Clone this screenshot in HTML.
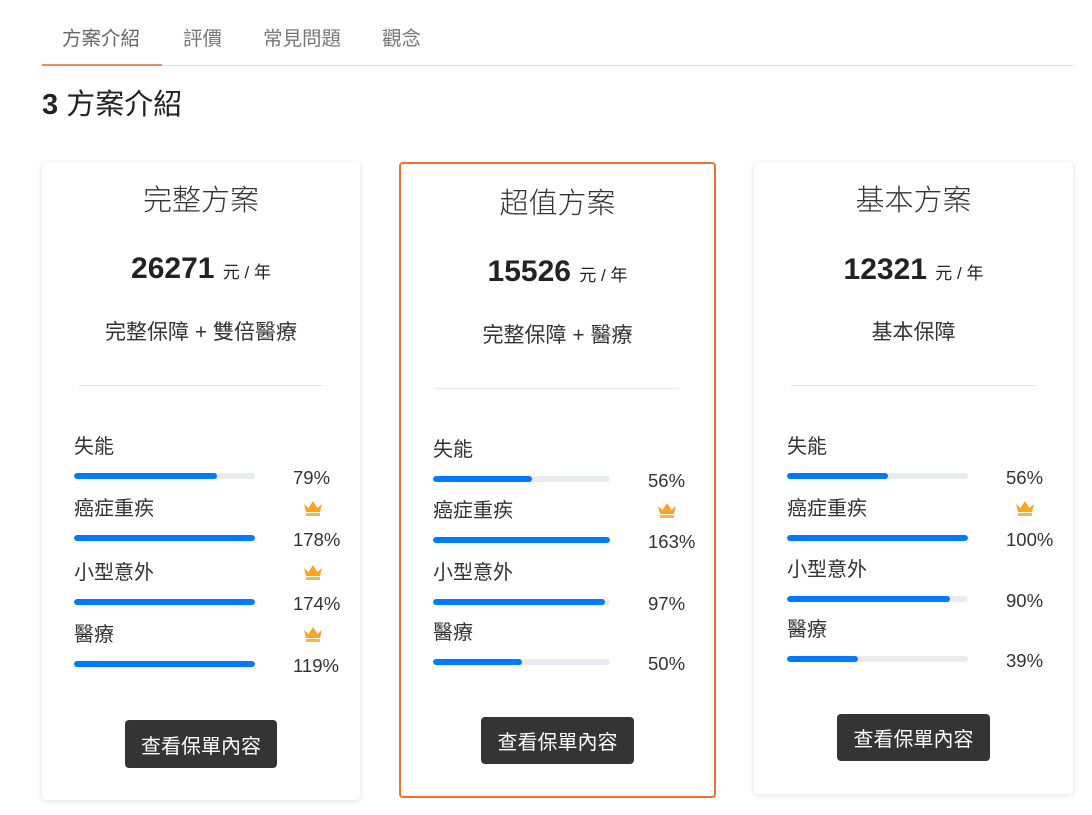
<!DOCTYPE html>
<html><head><meta charset="utf-8"><style>
body{margin:0;width:1092px;height:815px;background:#fff;font-family:"Liberation Sans","Noto Sans CJK TC",sans-serif;color:#333;position:relative;overflow:hidden}
.abs{position:absolute}
.tab{position:absolute;top:27px;font-size:19.5px;color:#777;line-height:24px}
.card{position:absolute;background:#fff;border-radius:4px;box-shadow:0 1px 6px rgba(0,0,0,0.13)}
.c{position:absolute;left:0;right:0;text-align:center;transform:translateY(-50%)}
.title{font-size:29px;color:#333;font-weight:300}
.price{font-size:30px;font-weight:bold;color:#222}
.price span{font-size:17px;font-weight:normal}
.sub{font-size:21px;color:#333}
.hr{position:absolute;height:1px;background:#e3e3e8}
.lbl{position:absolute;font-size:20px;transform:translateY(-50%);line-height:24px}
.track{position:absolute;height:6px;border-radius:3px;background:#e9ecef;overflow:hidden}
.fill{height:100%;background:#007bff;border-radius:3px}
.pct{position:absolute;font-size:18.5px;transform:translateY(-50%);line-height:24px}
.crown{position:absolute}
.btn{position:absolute;background:#343434;color:#fff;font-size:20px;border-radius:4px;display:flex;align-items:center;justify-content:center}
</style></head><body>
<div class="tab" style="left:62px;color:#666">方案介紹</div>
<div class="tab" style="left:183px">評價</div>
<div class="tab" style="left:263px">常見問題</div>
<div class="tab" style="left:382px">觀念</div>
<div class="abs" style="left:42px;top:65px;width:1031px;height:1px;background:#ddd"></div>
<div class="abs" style="left:42px;top:64px;width:120px;height:2px;background:#f0866a"></div>
<div class="abs" style="left:42px;top:87px;font-size:29px;color:#222;line-height:36px"><b>3</b> 方案介紹</div>
<div id="root"></div>
<script>
const planNames=["完整方案","超值方案","基本方案"];
const planPrices=["26271","15526","12321"];
const planSubs=["完整保障 + 雙倍醫療","完整保障 + 醫療","基本保障"];
const categories=["失能","癌症重疾","小型意外","醫療"];
const valuesFull=[79,178,174,119];
const valuesValue=[56,163,97,50];
const valuesBasic=[56,100,90,39];
const seriesValues=[valuesFull,valuesValue,valuesBasic];
const crownsFull=[false,true,true,true];
const crownsValue=[false,true,false,false];
const crownsBasic=[false,true,false,false];
const crowns=[crownsFull,crownsValue,crownsBasic];

const layout=[
 {x:42,y:162,w:318,h:638,t:36,p:107,s:169,hr:223,rows:[285,347,411,473],bx:32,bw:181,px:251,cx:261,btn:[83,558,152,48],border:false},
 {x:399,y:162,w:317,h:636,t:39,p:110,s:172,hr:226,rows:[288,349,411,471],bx:34,bw:177,px:249,cx:258,btn:[82,555,153,47],border:true},
 {x:754,y:162,w:319,h:632,t:36,p:108,s:169,hr:223,rows:[285,347,408,468],bx:33,bw:181,px:252,cx:261,btn:[83,552,153,47],border:false}
];
const root=document.getElementById('root');
const crownSvg='<svg width="20" height="17" viewBox="0 0 20 17"><path d="M1 4 L5.5 8 L10 1 L14.5 8 L19 4 L17 12 L3 12 Z" fill="#f5a623"/><rect x="3" y="13" width="14" height="3" fill="#f7b54a"/></svg>';
layout.forEach((L,i)=>{
 const c=document.createElement('div');
 c.className='card';
 
 
 c.style.cssText=`left:${L.x}px;top:${L.y}px;width:${L.w}px;height:${L.h}px;`+(L.border?'border:2px solid #f0712c;box-sizing:border-box;box-shadow:none;':'');
 const off=L.border?2:0;
 let h='';
 h+=`<div class="c title" style="top:${L.t-off}px">${planNames[i]}</div>`;
 h+=`<div class="c price" style="top:${L.p-off}px">${planPrices[i]} <span>元 / 年</span></div>`;
 h+=`<div class="c sub" style="top:${L.s-off}px">${planSubs[i]}</div>`;
 h+=`<div class="hr" style="top:${L.hr-off}px;left:${37-off}px;right:${37-off}px"></div>`;
 categories.forEach((cat,j)=>{
  const y=L.rows[j]-off, v=seriesValues[i][j];
  h+=`<div class="lbl" style="left:${L.bx-off}px;top:${y}px">${cat}</div>`;
  h+=`<div class="track" style="left:${L.bx-off}px;top:${y+26}px;width:${L.bw}px"><div class="fill" style="width:${Math.min(v,100)}%"></div></div>`;
  h+=`<div class="pct" style="left:${L.px-off}px;top:${y+31}px">${v}%</div>`;
  if(crowns[i][j]) h+=`<div class="crown" style="left:${L.cx-off}px;top:${y-9}px">${crownSvg}</div>`;
 });
 const b=L.btn;
 h+=`<div class="btn" style="left:${b[0]-off}px;top:${b[1]-off}px;width:${b[2]}px;height:${b[3]}px">查看保單內容</div>`;
 c.innerHTML=h;
 root.appendChild(c);
});
</script>
</body></html>
